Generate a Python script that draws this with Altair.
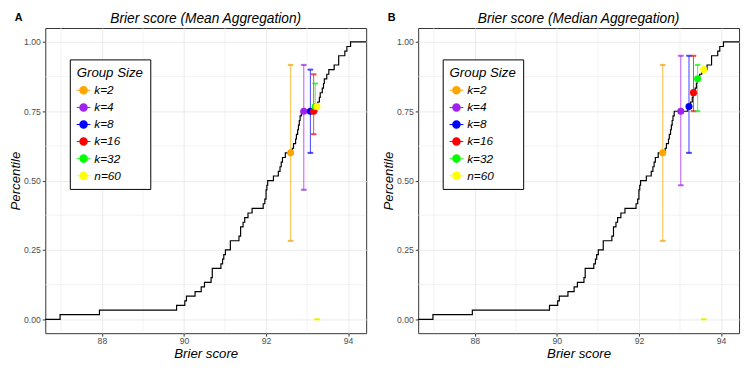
import altair as alt
import pandas as pd

# ---- data ----
brier = [86.98, 87.94, 89.82, 90.02, 90.06, 90.27, 90.42, 90.50, 90.66, 90.69,
         90.69, 90.90, 90.94, 90.97, 91.01, 91.13, 91.13, 91.34, 91.38, 91.38,
         91.44, 91.48, 91.56, 91.66, 91.93, 91.97, 92.00, 92.00, 92.02, 92.04,
         92.18, 92.30, 92.34, 92.37, 92.40, 92.47, 92.64, 92.67, 92.72, 92.74,
         92.77, 92.79, 92.81, 92.83, 92.86, 93.19, 93.26, 93.30, 93.32, 93.37,
         93.40, 93.42, 93.48, 93.53, 93.66, 93.77, 93.77, 93.92, 93.97, 94.06]

groups = ["k=2", "k=4", "k=8", "k=16", "k=32", "n=60"]
colors = ["#FFA500", "#A020F0", "#0000FF", "#FF0000", "#00FF00", "#FFFF00"]

mean_x = [92.60, 92.92, 93.08, 93.16, 93.20, 93.24]
mean_y = [0.600, 0.750, 0.750, 0.750, 0.767, 0.767]
mean_lo = [0.283, 0.467, 0.600, 0.667, 0.750, 0.000]
mean_hi = [0.917, 0.917, 0.900, 0.883, 0.850, 0.000]

median_x = [92.58, 93.02, 93.22, 93.33, 93.43, 93.58]
median_y = [0.600, 0.750, 0.767, 0.817, 0.867, 0.900]
median_lo = [0.283, 0.483, 0.600, 0.750, 0.750, 0.000]
median_hi = [0.917, 0.950, 0.950, 0.950, 0.917, 0.000]

x_ticks = [88, 90, 92, 94]
x_minor = [87, 89, 91, 93]
y_ticks = [0.0, 0.25, 0.5, 0.75, 1.0]
y_minor = [0.125, 0.375, 0.625, 0.875]

panel_titles = ["Brier score (Mean Aggregation)", "Brier score (Median Aggregation)"]
panel_tags = ["A", "B"]

X_DOMAIN = [86.62, 94.44]
Y_DOMAIN = [-0.05, 1.05]
W, H = 327, 311

# ---- tables ----
n = len(brier)
ecdf_df = pd.DataFrame({
    "x": [X_DOMAIN[0]] + sorted(brier) + [X_DOMAIN[1]],
    "y": [0.0] + [(i + 1) / n for i in range(n)] + [1.0],
})
ecdf_df["order"] = range(len(ecdf_df))

xs = alt.Scale(domain=X_DOMAIN, nice=False, zero=False, padding=0)
ys = alt.Scale(domain=Y_DOMAIN, nice=False, zero=False, padding=0)
x_axis = alt.Axis(values=x_ticks, format="d", grid=True, title="Brier score",
                  titlePadding=1, labelPadding=1)
y_axis = alt.Axis(values=y_ticks, format=".2f", grid=True, title="Percentile",
                  titlePadding=1, labelPadding=2)


def X(f):
    return alt.X(f"{f}:Q", scale=xs, axis=x_axis)


def Y(f):
    return alt.Y(f"{f}:Q", scale=ys, axis=y_axis)


sym_path = ("M-1,-0.07H1V0.07H-1Z "
            "M0.62,0A0.62,0.62,0,1,1,-0.62,0A0.62,0.62,0,1,1,0.62,0Z")

legend = alt.Legend(
    orient="none", legendX=25, legendY=32, title="Group Size",
    titleFontStyle="italic", titleFontWeight="normal", titleFontSize=13.5,
    titleColor="black", titlePadding=4,
    labelFontStyle="italic", labelFontSize=12, labelColor="black",
    labelOffset=4,
    strokeColor="black", fillColor="white", padding=7,
    symbolType=sym_path, symbolSize=196, symbolStrokeWidth=0,
    symbolOpacity=1, rowPadding=4.4,
)

cscale = alt.Scale(domain=groups, range=colors)


def panel(px, py, plo, phi, title, label):
    df = pd.DataFrame({"group": groups, "x": px, "y": py, "lo": plo, "hi": phi,
                       "ord": range(len(groups))})
    minor_x = alt.Chart(pd.DataFrame({"x": x_minor})).mark_rule(
        color="#EBEBEB", strokeWidth=0.6).encode(x=X("x"))
    minor_y = alt.Chart(pd.DataFrame({"y": y_minor})).mark_rule(
        color="#EBEBEB", strokeWidth=0.6).encode(y=Y("y"))
    line = alt.Chart(ecdf_df).mark_line(
        interpolate="step-after", color="black", strokeWidth=1.2).encode(
        x=X("x"), y=Y("y"), order="order:Q")
    bars = alt.Chart(df).mark_rule(strokeWidth=1, opacity=0.75).encode(
        x=X("x"), y=Y("lo"), y2="hi:Q",
        stroke=alt.Stroke("group:N", scale=cscale, legend=None))
    cap_lo = alt.Chart(df).mark_tick(orient="horizontal", size=5, thickness=1,
                                     opacity=0.75).encode(
        x=X("x"), y=Y("lo"),
        stroke=alt.Stroke("group:N", scale=cscale, legend=None))
    cap_hi = alt.Chart(df).mark_tick(orient="horizontal", size=5, thickness=1,
                                     opacity=0.75).encode(
        x=X("x"), y=Y("hi"),
        stroke=alt.Stroke("group:N", scale=cscale, legend=None))
    pts = alt.Chart(df).mark_circle(size=52, opacity=1).encode(
        x=X("x"), y=Y("y"),
        color=alt.Color("group:N", scale=cscale, legend=legend),
        order="ord:Q")
    tag = alt.Chart(pd.DataFrame({"t": [label]})).mark_text(
        fontWeight="bold", fontSize=11, align="left", baseline="top",
        color="black").encode(text="t:N", x=alt.value(-31), y=alt.value(-16))
    head = alt.Chart(pd.DataFrame({"t": [title]})).mark_text(
        fontStyle="italic", fontSize=14, align="center", baseline="top",
        color="black").encode(text="t:N", x=alt.value(W / 2), y=alt.value(-16))
    return alt.layer(minor_x, minor_y, line, bars, cap_lo, cap_hi, pts, tag,
                     head).properties(width=W, height=H)


left = panel(mean_x, mean_y, mean_lo, mean_hi, panel_titles[0], panel_tags[0])
right = panel(median_x, median_y, median_lo, median_hi, panel_titles[1], panel_tags[1])

chart = alt.hconcat(left, right, spacing=12).resolve_scale(
    color="independent").properties(
    padding={"left": 0, "top": 0, "right": 0, "bottom": 0}
).configure(font="Liberation Sans").configure_view(
    stroke="#333333", strokeWidth=1
).configure_axis(
    domain=False, gridColor="#EBEBEB", gridWidth=1, tickColor="#333333",
    tickSize=3, tickWidth=1, labelColor="#4D4D4D", labelFontSize=8.8,
    titleColor="black", titleFontSize=13.5,
    titleFontStyle="italic", titleFontWeight="normal"
)

chart.save("out.html", embed_options={"renderer": "svg", "actions": False})
